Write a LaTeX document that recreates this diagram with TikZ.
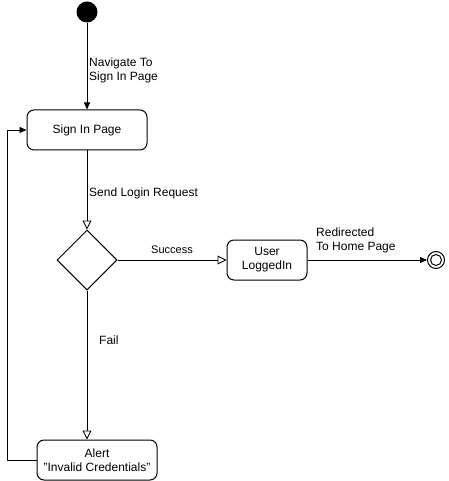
\documentclass[tikz,border=0pt]{standalone}
\usepackage{fontspec}
\setmainfont{Liberation Sans}
\usetikzlibrary{shapes.geometric,arrows.meta}
\begin{document}
\begin{tikzpicture}[x=1pt,y=-1pt,
  state/.style={draw,line width=1pt,rounded corners=7pt,inner sep=0pt,align=center,font=\fontsize{12}{14}\selectfont},
  lbl/.style={font=\fontsize{12}{14}\selectfont,align=left,inner sep=0pt},
  flow/.style={draw,line width=0.9pt,-{Triangle[length=7pt,width=6pt]}},
  oflow/.style={draw,line width=0.9pt,-{Triangle[open,length=9pt,width=9pt,fill=white]}}]
\useasboundingbox (0,0) rectangle (448,481);
\node[circle,fill=black,minimum size=21pt,inner sep=0pt] (start) at (87,12) {};
\node[state,minimum width=120pt,minimum height=40pt] (sign) at (87,130) {Sign In Page};
\node[diamond,draw,line width=1pt,minimum width=60pt,minimum height=60pt,inner sep=0pt] (dec) at (87,260) {};
\node[state,minimum width=80pt,minimum height=40pt] (user) at (267,260) {User\\LoggedIn};
\node[state,minimum width=120pt,minimum height=40pt] (alert) at (97,460) {Alert\\"Invalid Credentials"};
\node[circle,draw,line width=1pt,minimum size=17pt,inner sep=0pt] (end) at (436,260) {};
\node[circle,draw,line width=1pt,minimum size=11pt,inner sep=0pt] (endin) at (436,260) {};
\coordinate (lb) at (7,460);
\coordinate (lt) at (7,130);
\path[flow] (start) -- (sign);
\path[oflow] (sign) -- (dec);
\path[oflow] (dec) -- (user);
\path[flow] (user) -- (end);
\path[oflow] (dec.south) -- (dec.south |- alert.north);
\path[flow] (alert.west) -- (lb) -- (lt) -- (sign.west);
\node[lbl,anchor=west] (l1) at (89,70) {Navigate To\\Sign In Page};
\node[lbl,anchor=west] (l2) at (89,193) {Send Login Request};
\node[font=\fontsize{11}{13}\selectfont,inner sep=0pt] (l3) at (172,250) {Success};
\node[lbl,anchor=west] (l4) at (316,240) {Redirected\\To Home Page};
\node[lbl,anchor=west] (l5) at (99,340) {Fail};
\end{tikzpicture}
\end{document}
